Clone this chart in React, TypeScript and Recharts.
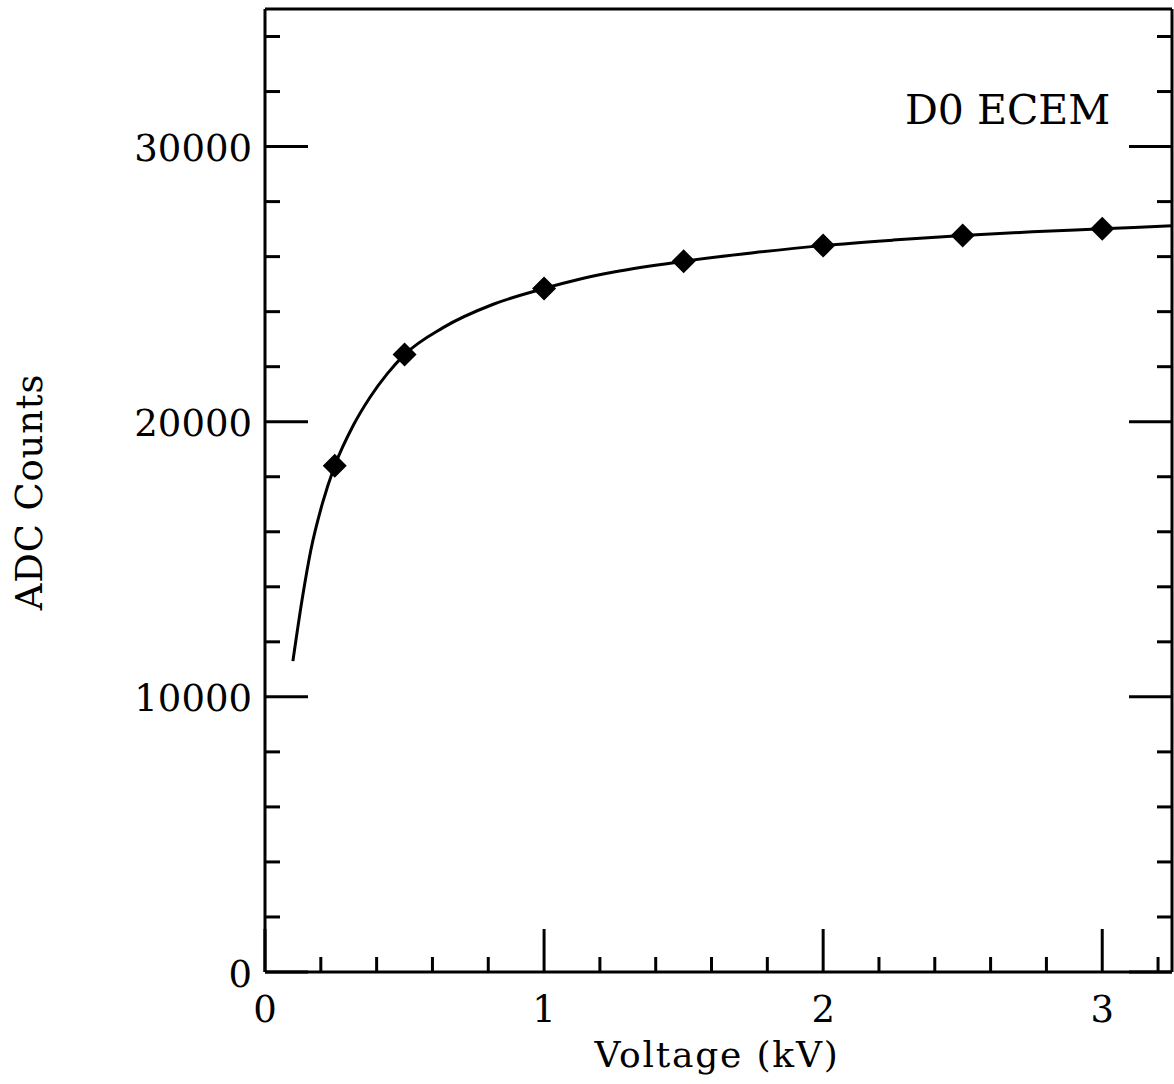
import { ComposedChart, Line, Scatter, XAxis, YAxis } from 'recharts';

// measured points
const voltageKV = [0.25, 0.5, 1, 1.5, 2, 2.5, 3];
const adcCounts = [18400, 22440, 24840, 25830, 26400, 26770, 27010];

// fitted curve
const fitVoltage = [0.1, 0.134, 0.164, 0.206, 0.25, 0.317, 0.377, 0.437, 0.5, 0.638, 0.818, 1.0, 1.13, 1.25, 1.5, 1.75, 2.0, 2.25, 2.5, 2.75, 3.0, 3.25];
const fitCounts = [11300, 13600, 15320, 17040, 18400, 19880, 20900, 21730, 22440, 23420, 24270, 24840, 25185, 25440, 25830, 26140, 26400, 26600, 26770, 26900, 27010, 27120];

const xTicks = [0, 0.2, 0.4, 0.6, 0.8, 1, 1.2, 1.4, 1.6, 1.8, 2, 2.2, 2.4, 2.6, 2.8, 3, 3.2];
const yTicks = [0, 2000, 4000, 6000, 8000, 10000, 12000, 14000, 16000, 18000, 20000, 22000, 24000, 26000, 28000, 30000, 32000, 34000];

const FONT = '"DejaVu Serif", serif';
const MAJOR = 43;
const MINOR = 15;

const points = voltageKV.map((v, i) => ({ v, c: adcCounts[i] }));
const fit = fitVoltage.map((v, i) => ({ v, c: fitCounts[i] }));

const isMajor = (value: number, step: number) => Math.abs(value / step - Math.round(value / step)) < 1e-6;

const BottomTick = ({ x, y, payload }: any) => {
  const major = isMajor(payload.value, 1);
  return (
    <g>
      <line x1={x} x2={x} y1={y} y2={y - (major ? MAJOR : MINOR)} stroke="#000" strokeWidth={3} />
      {major && (
        <text x={x} y={y + 50} textAnchor="middle" fontFamily={FONT} fontSize={37} fill="#000">
          {payload.value}
        </text>
      )}
    </g>
  );
};

const TopTick = ({ x, y, payload }: any) => {
  const major = isMajor(payload.value, 1);
  return <line x1={x} x2={x} y1={y} y2={y + (major ? MAJOR : MINOR)} stroke="#000" strokeWidth={3} />;
};

const LeftTick = ({ x, y, payload }: any) => {
  const major = isMajor(payload.value, 10000);
  return (
    <g>
      <line x1={x} x2={x + (major ? MAJOR : MINOR)} y1={y} y2={y} stroke="#000" strokeWidth={3} />
      {major && (
        <text x={x - 13} y={y + 2} textAnchor="end" dominantBaseline="central" fontFamily={FONT} fontSize={37} fill="#000">
          {payload.value}
        </text>
      )}
    </g>
  );
};

const RightTick = ({ x, y, payload }: any) => {
  const major = isMajor(payload.value, 10000);
  return <line x1={x} x2={x - (major ? MAJOR : MINOR)} y1={y} y2={y} stroke="#000" strokeWidth={3} />;
};

const Diamond = ({ cx, cy }: any) => (
  <polygon points={`${cx},${cy - 12} ${cx + 12},${cy} ${cx},${cy + 12} ${cx - 12},${cy}`} fill="#000" />
);

const axisLine = { stroke: '#000', strokeWidth: 3 };

export default function App() {
  return (
    <div style={{ position: 'absolute', left: 0, top: 0, width: 1174, height: 1084, background: '#fff' }}>
      <ComposedChart width={1174} height={1084} margin={{ top: 8, right: 1, bottom: 0, left: 0 }}>
        <XAxis
          xAxisId="x"
          type="number"
          dataKey="v"
          domain={[0, 3.25]}
          ticks={xTicks}
          interval={0}
          allowDataOverflow
          height={112}
          tickSize={0}
          tickMargin={0}
          tickLine={false}
          axisLine={axisLine}
          tick={<BottomTick />}
        />
        <XAxis
          xAxisId="xTop"
          orientation="top"
          type="number"
          domain={[0, 3.25]}
          ticks={xTicks}
          interval={0}
          allowDataOverflow
          height={1}
          tickSize={0}
          tickMargin={0}
          tickLine={false}
          axisLine={axisLine}
          tick={<TopTick />}
        />
        <YAxis
          yAxisId="y"
          type="number"
          dataKey="c"
          domain={[0, 35000]}
          ticks={yTicks}
          interval={0}
          allowDataOverflow
          width={265}
          tickSize={0}
          tickMargin={0}
          tickLine={false}
          axisLine={axisLine}
          tick={<LeftTick />}
        />
        <YAxis
          yAxisId="yRight"
          orientation="right"
          type="number"
          domain={[0, 35000]}
          ticks={yTicks}
          interval={0}
          allowDataOverflow
          width={1}
          tickSize={0}
          tickMargin={0}
          tickLine={false}
          axisLine={axisLine}
          tick={<RightTick />}
        />
        <Line
          xAxisId="x"
          yAxisId="y"
          data={fit}
          dataKey="c"
          type="monotone"
          stroke="#000"
          strokeWidth={3}
          dot={false}
          isAnimationActive={false}
        />
        <Scatter
          xAxisId="x"
          yAxisId="y"
          data={points}
          dataKey="c"
          shape={<Diamond />}
          isAnimationActive={false}
        />
      </ComposedChart>
      <svg width={1174} height={1084} style={{ position: 'absolute', left: 0, top: 0, pointerEvents: 'none' }}>
        <text x={905} y={124} fontFamily={FONT} fontSize={41} fill="#000">D0 ECEM</text>
        <text x={717} y={1067} textAnchor="middle" fontFamily={FONT} fontSize={36} letterSpacing={1.8} fill="#000">
          Voltage (kV)
        </text>
        <text
          x={42}
          y={492}
          textAnchor="middle"
          transform="rotate(-90, 42, 492)"
          fontFamily={FONT}
          fontSize={37}
          letterSpacing={0.8}
          fill="#000"
        >
          ADC Counts
        </text>
      </svg>
    </div>
  );
}
